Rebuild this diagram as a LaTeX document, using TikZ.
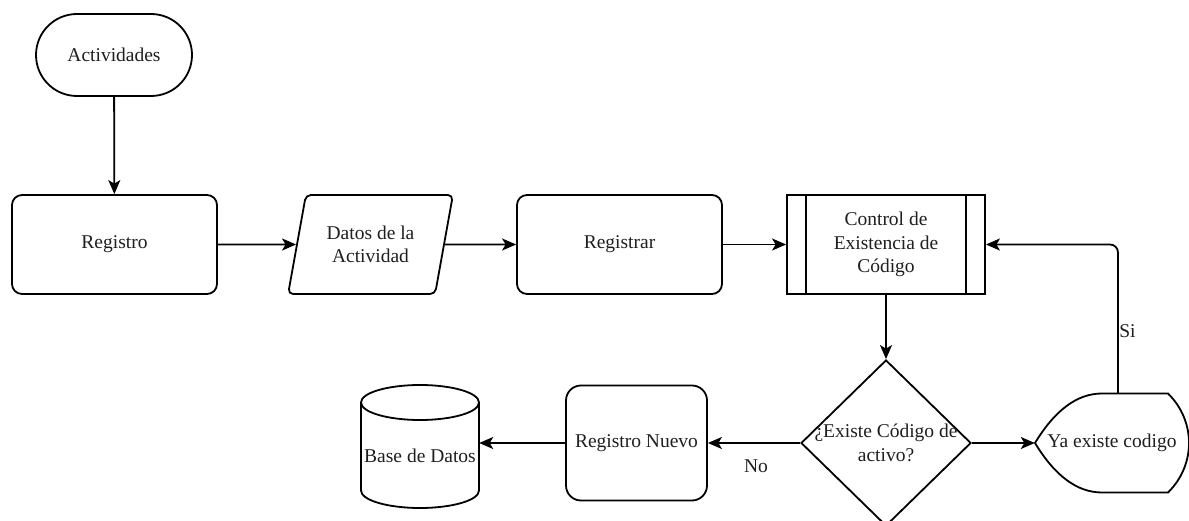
\documentclass[tikz,border=0pt]{standalone}
\usepackage{fontspec}
\setmainfont{Liberation Serif}
\usetikzlibrary{arrows.meta,shapes.geometric}

\begin{document}
\begin{tikzpicture}[x=1pt,y=-1pt,
  font=\fontsize{19.5}{23.5}\selectfont,
  every node/.style={align=center, inner sep=0pt, text=black!88},
  shp/.style={draw, line width=1.8pt},
  proc/.style={shp, rounded corners=10pt},
  outline/.style={line width=1.8pt},
  flow/.style={line width=1.8pt, -{Stealth[length=14pt,width=12pt,inset=3.5pt]}},
]
% page frame
\path[use as bounding box, fill=white] (0,0) rectangle (1189,521);

% top row
\node[proc, rounded corners=41pt, minimum width=156pt, minimum height=82pt] (act) at (114,55) {Actividades};
\node[proc, minimum width=205pt, minimum height=99pt] (reg) at (114.5,244.5) {Registro};
\node[shp, trapezium, trapezium left angle=72, trapezium right angle=108,
      trapezium stretches=true, minimum width=165pt, minimum height=99pt,
      rounded corners=5pt] (datos) at (370.5,244.5) {Datos de la\\Actividad};
\node[proc, minimum width=205pt, minimum height=99pt] (regr) at (619.5,244.5) {Registrar};
\node[shp, minimum width=198pt, minimum height=99pt] (ctrl) at (886,244.5) {Control de\\Existencia de\\Código};
\draw[outline] ([xshift=20pt]ctrl.north west) -- ([xshift=20pt]ctrl.south west);
\draw[outline] ([xshift=-20pt]ctrl.north east) -- ([xshift=-20pt]ctrl.south east);

% decision
\node[shp, diamond, minimum width=170pt, minimum height=166pt,
      label={[name=qtxt, align=center]center:{¿Existe Código de\\activo?}}] (q) at (886,443) {};

% display shape
\node[minimum width=154pt, minimum height=99pt] (ya) at (1112,443) {Ya existe codigo};
\begin{scope}[shift={(ya.center)}]
  \draw[outline] (-10,-49.5) -- (56,-49.5)
     .. controls (84,-22) and (84,22) .. (56,49.5)
     -- (-10,49.5)
     .. controls (-34.7,49.5) and (-57,33) .. (-77,0)
     .. controls (-57,-33) and (-34.7,-49.5) .. cycle;
\end{scope}

% new record and database
\node[proc, rounded corners=15pt, minimum width=141pt, minimum height=115pt] (nuevo) at (636.5,443) {Registro Nuevo};
\node[minimum width=118pt, minimum height=123pt,
      label={[name=dbtxt, yshift=-9pt]center:Base de Datos}] (db) at (420,446.5) {};
\begin{scope}[shift={(db.center)}]
  \draw[outline] (-59,-44) -- (-59,44) arc[start angle=180, end angle=360, x radius=59pt, y radius=17.5pt] -- (59,-44);
  \draw[outline] (0,-44) ellipse [x radius=59pt, y radius=17.5pt];
\end{scope}

% connectors
\draw[flow] (act) -- (reg);
\draw[flow] (reg.east) -- (datos.west);
\draw[flow] (datos.east) -- (regr.west);
\draw[flow] (regr.east) -- (ctrl.west);
\draw[flow] (ctrl.south) -- (q.north);
\draw[flow] (q.east) -- (ya.west);
\draw[flow, rounded corners=8pt] ([xshift=6pt]ya.north) |- (ctrl.east);
\draw[flow] (q.west) -- (nuevo.east);
\draw[flow] (nuevo.west) -- (nuevo.west -| db.east);

% branch labels
\node (nolbl) at (756,466) {No};
\node (silbl) at (1127.5,331) {Si};
\end{tikzpicture}
\end{document}
